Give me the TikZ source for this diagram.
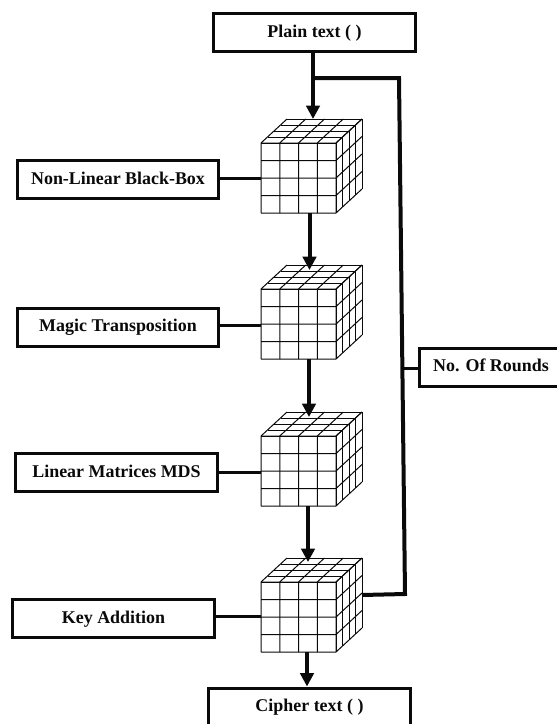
\documentclass[tikz,border=0pt]{standalone}
\usepackage{fontspec}
\setmainfont{Liberation Serif}
\usepackage{xcolor}
\usepackage{tikz}
\usetikzlibrary{arrows.meta}
\definecolor{ink}{HTML}{0A0A0A}

\begin{document}
\begin{tikzpicture}[
  x=0.03cm, y=-0.03cm,
  stage/.style={draw=ink, fill=white, line width=0.09cm,
                minimum width=6.03cm, minimum height=1.14cm,
                font=\fontsize{15.3}{18}\selectfont\bfseries\color{ink}, inner sep=0pt,
                text height=11pt, text depth=2.6pt},
  arrow/.style={-{Triangle[width=0.4cm,length=0.4cm]}, draw=ink, line width=0.12cm},
  link/.style={draw=ink, line width=0.09cm},
  feedback/.style={draw=ink, line width=0.12cm},
  gridcube/.pic={
    \fill[white] (0,0) -- (26,-24) -- (101,-24) -- (101,46) -- (75,70) -- (0,70) -- cycle;
    \foreach \i in {0,...,4} {
      \draw[cubeline] (\i*18.75,70) -- (\i*18.75,0) -- ++(26,-24);
      \draw[cubeline] (0,\i*17.5) -- (75,\i*17.5) -- ++(26,-24);
      \draw[cubeline] (\i*6.5,-\i*6) -- ++(75,0);
      \draw[cubeline] (75+\i*6.5,-\i*6) -- ++(0,70);
    }
  },
  cubeline/.style={draw=ink, line width=0.03cm}
]
  \useasboundingbox (0,0) rectangle (557,724);
  \clip (0,0) rectangle (557,724);

  % cubes
  \pic at (261,143) {gridcube};
  \pic at (261,289) {gridcube};
  \pic at (261,436) {gridcube};
  \pic at (261,582) {gridcube};

  % ports on the cubes
  \coordinate (in1)  at (313,119);
  \coordinate (out1) at (309.5,213);
  \coordinate (in2)  at (309.5,270);
  \coordinate (out2) at (309,359);
  \coordinate (in3)  at (309,417);
  \coordinate (out3) at (308,506);
  \coordinate (in4)  at (308,562);
  \coordinate (out4) at (307,652);
  \coordinate (side1) at (261,178);
  \coordinate (side2) at (261,325);
  \coordinate (side3) at (261,472);
  \coordinate (side4) at (261,616);

  \node[stage] (plain)  at (314.5,32.5) {Plain text ( )};
  \node[stage] (sbox)   at (118,179.5)  {Non-Linear Black-Box};
  \node[stage] (magic)  at (118,327)    {Magic Transposition};
  \node[stage] (mds)    at (116.5,472.5) {Linear Matrices MDS};
  \node[stage] (key)    at (113.5,618.5) {Key Addition};
  \node[stage] (cipher) at (309.5,707)  {Cipher text ( )};
  \node[stage, minimum width=4.4cm] (rounds) at (493,367) {No. Of Rounds\kern3.4pt\null};

  \draw[arrow] (plain.south -| in1) -- (in1);
  \draw[arrow] (out1) -- (in2);
  \draw[arrow] (out2) -- (in3);
  \draw[arrow] (out3) -- (in4);
  \draw[arrow] (out4) -- (out4 |- cipher.north);

  \draw[link] (sbox.east  |- side1) -- (side1);
  \draw[link] (magic.east |- side2) -- (side2);
  \draw[link] (mds.east   |- side3) -- (side3);
  \draw[link] (key.east   |- side4) -- (side4);

  % round loop
  \coordinate (tap)   at (313,78);
  \coordinate (upper) at (399,78);
  \coordinate (lower) at (405,594);
  \coordinate (back)  at (362,595);
  \coordinate (join)  at (402,368);
  \draw[feedback] (tap) -- (upper) -- (lower) -- (back);
  \draw[link] (join) -- (rounds.west |- join);
\end{tikzpicture}
\end{document}
